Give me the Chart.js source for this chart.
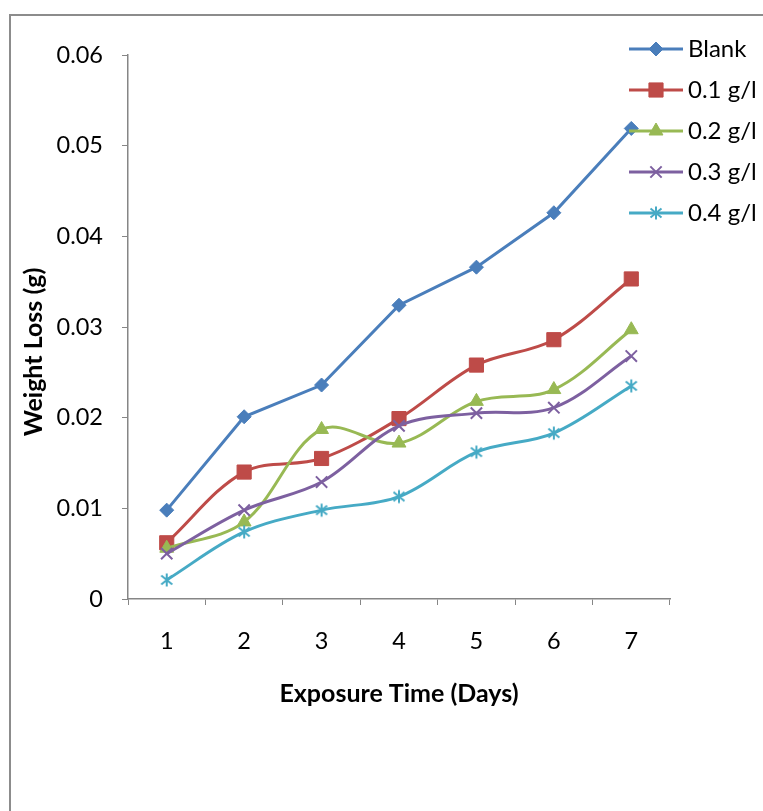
<!DOCTYPE html>
<html>
<head>
<meta charset="utf-8">
<script src="https://cdn.jsdelivr.net/npm/chart.js@4.4.1/dist/chart.umd.min.js"></script>
<style>
  html, body { margin: 0; padding: 0; background: #ffffff; }
  #wrap { width: 763px; height: 811px; }
</style>
</head>
<body>
<div id="wrap"><canvas id="c" width="763" height="811"></canvas></div>
<script>
// ---- data ----
const days = ['1', '2', '3', '4', '5', '6', '7'];
const seriesNames = ['Blank', '0.1 g/l', '0.2 g/l', '0.3 g/l', '0.4 g/l'];
const blank = [0.0098, 0.0201, 0.0236, 0.0324, 0.0366, 0.0426, 0.0519];
const conc01 = [0.0062, 0.0140, 0.0155, 0.0199, 0.0258, 0.0286, 0.0353];
const conc02 = [0.0056, 0.0085, 0.0187, 0.0172, 0.0218, 0.0231, 0.0297];
const conc03 = [0.0050, 0.0098, 0.0129, 0.0191, 0.0205, 0.0211, 0.0268];
const conc04 = [0.0021, 0.0074, 0.0098, 0.0113, 0.0162, 0.0183, 0.0235];
const yTickLabels = ['0', '0.01', '0.02', '0.03', '0.04', '0.05', '0.06'];
const xTitle = 'Exposure Time (Days)';
const yTitle = 'Weight Loss (g)';

// ---- styles ----
const colors = ['#4A7EBB', '#BE4B48', '#98B954', '#7D60A0', '#46AAC5'];

// Excel-like asterisk marker (vertical stroke + X)
function makeAsterisk(color) {
  const c = document.createElement('canvas');
  c.width = 16; c.height = 16;
  const g = c.getContext('2d');
  g.strokeStyle = color;
  g.lineWidth = 2;
  g.lineCap = 'butt';
  g.beginPath();
  g.moveTo(8, 1.5); g.lineTo(8, 14.5);
  g.moveTo(2.5, 3.5); g.lineTo(13.5, 12.5);
  g.moveTo(13.5, 3.5); g.lineTo(2.5, 12.5);
  g.stroke();
  return c;
}

const styles = ['rectRot', 'rect', 'triangle', 'crossRot', makeAsterisk(colors[4])];
const radii = [7, 10, 8, 8, 7];
const pBorder = [1, 1, 1, 2, 2];
const tensions = [0, 0.35, 0.35, 0.35, 0.35];
const values = [blank, conc01, conc02, conc03, conc04];
const FONT = 'Lato, "Open Sans", "Liberation Sans", sans-serif';
const AXIS = '#868686';

const datasets = values.map((v, i) => ({
  label: seriesNames[i],
  data: v,
  borderColor: colors[i],
  backgroundColor: colors[i],
  borderWidth: 3,
  pointStyle: styles[i],
  pointRadius: radii[i],
  pointHoverRadius: radii[i],
  pointBorderWidth: pBorder[i],
  pointBackgroundColor: colors[i],
  pointBorderColor: colors[i],
  tension: tensions[i],
  fill: false,
  order: values.length - i
}));

const framePlugin = {
  id: 'frame',
  beforeDraw(chart) {
    const ctx = chart.ctx;
    ctx.save();
    ctx.fillStyle = '#ffffff';
    ctx.fillRect(0, 0, chart.width, chart.height);
    ctx.strokeStyle = '#8c8c8c';
    ctx.lineWidth = 2;
    ctx.strokeRect(10, 15, 900, 900);
    ctx.restore();
  }
};

const yTitlePlugin = {
  id: 'ytitle',
  afterDraw(chart) {
    const ctx = chart.ctx;
    ctx.save();
    ctx.translate(34, 352);
    ctx.rotate(-Math.PI / 2);
    ctx.font = 'bold 25px ' + FONT;
    ctx.fillStyle = '#000000';
    ctx.textAlign = 'center';
    ctx.textBaseline = 'middle';
    ctx.fillText(yTitle, 0, 0);
    ctx.restore();
  }
};

const legendPlugin = {
  id: 'customLegend',
  afterDraw(chart) {
    const ctx = chart.ctx;
    const x0 = 629, x1 = 683, tx = 688, y0 = 49, dy = 41;
    chart.data.datasets.forEach((ds, i) => {
      const y = y0 + i * dy;
      ctx.save();
      ctx.strokeStyle = ds.borderColor;
      ctx.lineWidth = 3;
      ctx.beginPath();
      ctx.moveTo(x0, y);
      ctx.lineTo(x1, y);
      ctx.stroke();
      ctx.fillStyle = ds.pointBackgroundColor;
      ctx.strokeStyle = ds.pointBorderColor;
      ctx.lineWidth = ds.pointBorderWidth;
      Chart.helpers.drawPoint(ctx, {
        pointStyle: ds.pointStyle,
        radius: ds.pointRadius,
        rotation: 0,
        borderWidth: ds.pointBorderWidth
      }, (x0 + x1) / 2, y);
      ctx.fillStyle = '#000000';
      ctx.font = '24px ' + FONT;
      ctx.textAlign = 'left';
      ctx.textBaseline = 'middle';
      ctx.fillText(ds.label, tx, y);
      ctx.restore();
    });
  }
};

new Chart(document.getElementById('c'), {
  type: 'line',
  data: { labels: days, datasets: datasets },
  plugins: [framePlugin, yTitlePlugin, legendPlugin],
  options: {
    responsive: false,
    animation: false,
    devicePixelRatio: 1,
    layout: { padding: { top: 55, right: 93, left: 0, bottom: 0 } },
    plugins: { legend: { display: false }, tooltip: { enabled: false } },
    scales: {
      x: {
        type: 'category',
        offset: true,
        afterFit(s) { s.height = 212; },
        grid: { display: true, offset: true, drawOnChartArea: false, drawTicks: true, tickLength: 6, color: AXIS, lineWidth: 1 },
        border: { display: true, color: AXIS, width: 1.5 },
        ticks: { color: '#000000', padding: 22, font: { family: FONT, size: 23.5 }, maxRotation: 0 },
        title: { display: true, text: xTitle, color: '#000000', font: { family: FONT, size: 25, weight: 'bold' }, padding: { top: 0, bottom: 102 } }
      },
      y: {
        min: 0,
        max: 0.06,
        afterFit(s) { s.width = 128; },
        grid: { display: true, drawOnChartArea: false, drawTicks: true, tickLength: 6, color: AXIS, lineWidth: 1 },
        border: { display: true, color: AXIS, width: 1.5 },
        ticks: {
          stepSize: 0.01,
          color: '#000000',
          padding: 19,
          font: { family: FONT, size: 23.5 },
          callback: (v, i) => yTickLabels[i]
        }
      }
    }
  }
});
</script>
</body>
</html>
